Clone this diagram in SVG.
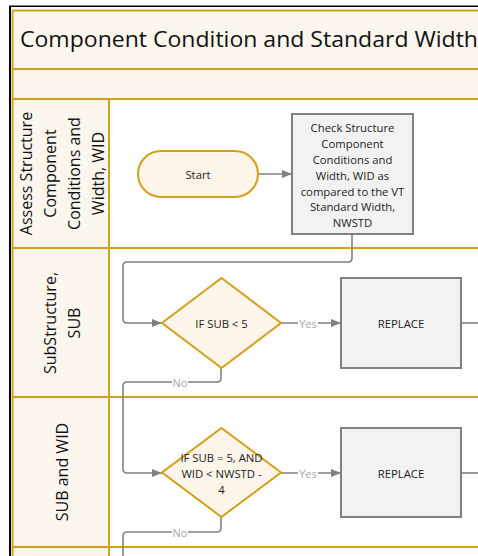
<svg xmlns="http://www.w3.org/2000/svg" width="478" height="556" viewBox="0 0 478 556">
<style>
.lane{stroke:#d4a017;stroke-width:2;}
.hdr{fill:#fcf6ee;}
.lt{font-family:"Open Sans","Noto Sans",sans-serif;font-size:16px;fill:#111;text-anchor:middle;dominant-baseline:central;}
.nt{font-family:"Open Sans","Noto Sans",sans-serif;font-size:11.3px;fill:#222;text-anchor:middle;dominant-baseline:central;}
.term{fill:#fdf5ea;stroke:#d4a017;stroke-width:2;}
.dec{fill:#fdf5ea;stroke:#d4a017;stroke-width:2;}
.proc{fill:#f2f2f2;stroke:#808080;stroke-width:2;}
.con{fill:none;stroke:#808080;stroke-width:1.6;}
.lbl{font-family:"Open Sans","Noto Sans",sans-serif;font-size:11px;fill:#a6a6a6;text-anchor:middle;dominant-baseline:central;}
</style>
<defs>
<marker id="ah" markerWidth="10" markerHeight="8" refX="10" refY="4" orient="auto" markerUnits="userSpaceOnUse">
<path d="M0,0 L10,4 L0,8 Z" fill="#808080"/>
</marker>
</defs>
<rect width="478" height="556" fill="#ffffff"/>
<rect x="9" y="6" width="2" height="550" fill="#000"/>
<rect x="9" y="5.5" width="469" height="1.5" fill="#000"/>
<g id="pool">
<rect x="12.5" y="10.5" width="470" height="88.5" class="hdr"/>
<rect x="12.5" y="99" width="96.5" height="460" class="hdr"/>
<line x1="12.5" y1="10.5" x2="478" y2="10.5" class="lane"/>
<line x1="12.5" y1="10.5" x2="12.5" y2="556" class="lane"/>
<line x1="12.5" y1="69" x2="478" y2="69" class="lane"/>
<line x1="12.5" y1="99" x2="478" y2="99" class="lane"/>
<line x1="109" y1="99" x2="109" y2="556" class="lane"/>
<line x1="12.5" y1="248" x2="478" y2="248" class="lane"/>
<line x1="12.5" y1="397" x2="478" y2="397" class="lane"/>
<line x1="12.5" y1="547" x2="478" y2="547" class="lane"/>
<text x="20" y="47" font-family="'Open Sans','Noto Sans',sans-serif" font-size="21" fill="#111" textLength="458" lengthAdjust="spacingAndGlyphs">Component Condition and Standard Width</text>
</g>
<g id="lane1">
<text class="lt" transform="translate(26,173.5) rotate(-90)">Assess Structure</text>
<text class="lt" transform="translate(50,173.5) rotate(-90)">Component</text>
<text class="lt" transform="translate(74,173.5) rotate(-90)">Conditions and</text>
<text class="lt" transform="translate(98,173.5) rotate(-90)">Width, WID</text>
</g>
<g id="lane2">
<text class="lt" transform="translate(50,323) rotate(-90)">SubStructure,</text>
<text class="lt" transform="translate(74,323) rotate(-90)">SUB</text>
</g>
<g id="lane3">
<text class="lt" transform="translate(62,472) rotate(-90)">SUB and WID</text>
</g>
<g id="connectors">
<path class="con" d="M258,174 H292" marker-end="url(#ah)"/>
<path class="con" d="M352,234 V258 Q352,262 348,262 H127 Q123,262 123,266 V319 Q123,323 127,323 H162" marker-end="url(#ah)"/>
<path class="con" d="M281,323 H341" marker-end="url(#ah)"/>
<path class="con" d="M461,323 H478"/>
<path class="con" d="M221,368 V378 Q221,382 217,382 H127 Q123,382 123,386 V469 Q123,473 127,473 H162" marker-end="url(#ah)"/>
<path class="con" d="M281,473 H341" marker-end="url(#ah)"/>
<path class="con" d="M461,473 H478"/>
<path class="con" d="M221,517 V528 Q221,532 217,532 H127 Q123,532 123,536 V556"/>
<rect x="298" y="316" width="20" height="14" fill="#fff"/>
<text class="lbl" x="308" y="323">Yes</text>
<rect x="298" y="466" width="20" height="14" fill="#fff"/>
<text class="lbl" x="308" y="473">Yes</text>
<rect x="172" y="375" width="16" height="14" fill="#fff"/>
<text class="lbl" x="180" y="382">No</text>
<rect x="172" y="525" width="16" height="14" fill="#fff"/>
<text class="lbl" x="180" y="532">No</text>
</g>
<g id="start">
<rect class="term" x="138" y="151" width="120" height="46" rx="23"/>
<text class="nt" x="198" y="174">Start</text>
</g>
<g id="check">
<rect class="proc" x="292" y="114" width="121" height="120"/>
<text class="nt" x="352.5" y="127">Check Structure</text>
<text class="nt" x="352.5" y="143">Component</text>
<text class="nt" x="352.5" y="159">Conditions and</text>
<text class="nt" x="352.5" y="175">Width, WID as</text>
<text class="nt" x="352.5" y="191">compared to the VT</text>
<text class="nt" x="352.5" y="206">Standard Width,</text>
<text class="nt" x="352.5" y="222">NWSTD</text>
</g>
<g id="dec1">
<polygon class="dec" points="221.5,278 281,323 221.5,368 162,323"/>
<text class="nt" x="221.5" y="323">IF SUB &lt; 5</text>
</g>
<g id="rep1">
<rect class="proc" x="341" y="278" width="120" height="90"/>
<text class="nt" x="401" y="323">REPLACE</text>
</g>
<g id="dec2">
<polygon class="dec" points="221.5,428 281,472.5 221.5,517 162,472.5"/>
<text class="nt" x="221.5" y="457">IF SUB = 5, AND</text>
<text class="nt" x="221.5" y="473">WID &lt; NWSTD -</text>
<text class="nt" x="221.5" y="489">4</text>
</g>
<g id="rep2">
<rect class="proc" x="341" y="428" width="120" height="89"/>
<text class="nt" x="401" y="473">REPLACE</text>
</g>
</svg>
